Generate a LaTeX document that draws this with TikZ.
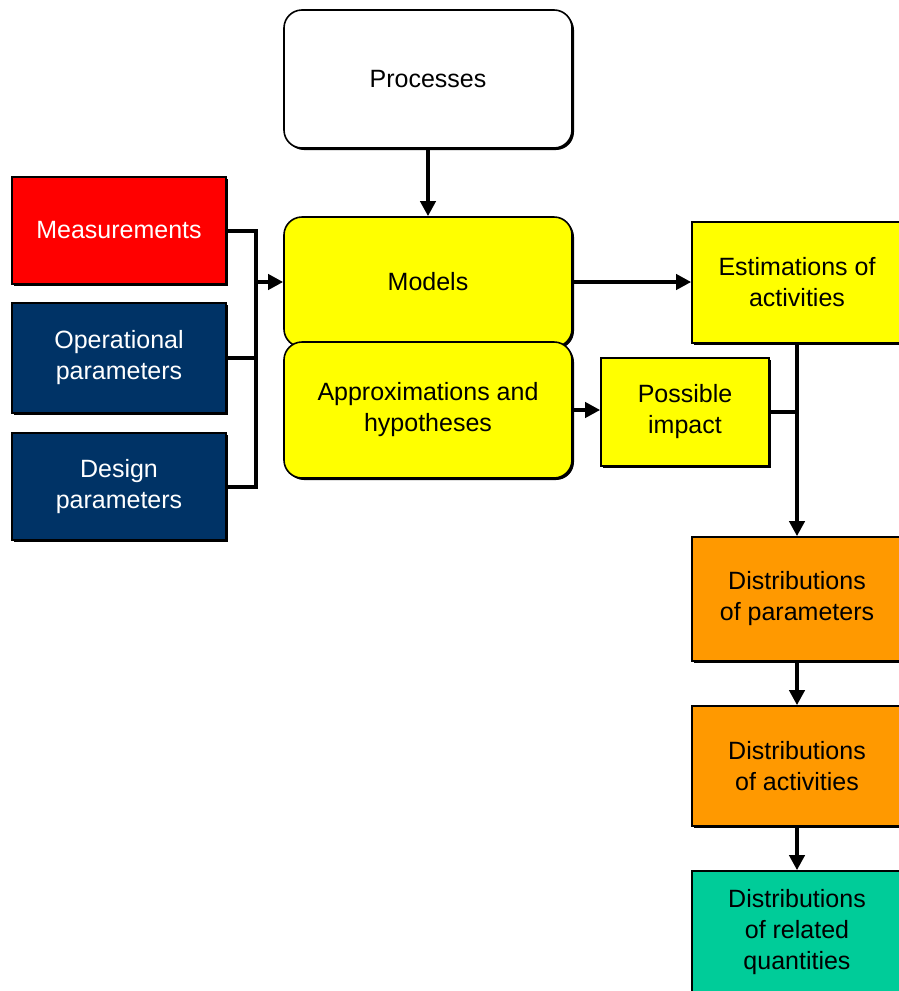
\documentclass[tikz,border=0pt]{standalone}
\usepackage{fontspec}
\setmainfont{Liberation Sans}
\usetikzlibrary{arrows.meta,shadows}
\definecolor{navy}{HTML}{003366}
\definecolor{boxyellow}{HTML}{FFFF00}
\definecolor{boxorange}{HTML}{FF9900}
\definecolor{boxteal}{HTML}{00CC99}
\definecolor{boxred}{HTML}{FF0000}
\tikzset{
  box/.style={draw=black, line width=1.6pt, align=center, inner sep=0pt,
    font=\fontsize{25}{31}\selectfont,
    drop shadow={shadow xshift=2pt, shadow yshift=-2pt, fill=black, opacity=1}},
  roundbox/.style={box, rounded corners=18pt},
  link/.style={line width=4pt},
  arrowlink/.style={link, -{Triangle[length=15pt,width=15pt]}},
}
\begin{document}
\begin{tikzpicture}[x=1pt,y=-1pt]
\useasboundingbox (0,0) rectangle (899,991);
\clip (0,0) rectangle (899,991);

% central column
\node[roundbox, fill=white, minimum width=288pt, minimum height=138pt] (proc) at (428,79) {Processes};
\node[roundbox, fill=boxyellow, minimum width=288pt, minimum height=130pt] (models) at (428,282) {Models};
\node[roundbox, fill=boxyellow, minimum width=288pt, minimum height=136pt] (approx) at (428,410) {Approximations and\\hypotheses};

% inputs on the left
\node[box, fill=boxred, text=white, minimum width=214pt, minimum height=107pt] (meas) at (119,230.5) {Measurements};
\node[box, fill=navy, text=white, minimum width=214pt, minimum height=110pt] (oper) at (119,358) {Operational\\parameters};
\node[box, fill=navy, text=white, minimum width=214pt, minimum height=107pt] (design) at (119,486.5) {Design\\parameters};

% outputs on the right
\node[box, fill=boxyellow, minimum width=210pt, minimum height=121pt] (est) at (797,282.5) {Estimations of\\activities};
\node[box, fill=boxyellow, minimum width=168pt, minimum height=108pt] (imp) at (685,412) {Possible\\impact};
\node[box, fill=boxorange, minimum width=210pt, minimum height=124pt] (dpar) at (797,599) {Distributions\\of parameters};
\node[box, fill=boxorange, minimum width=210pt, minimum height=120pt] (dact) at (797,766) {Distributions\\of activities};
\node[box, fill=boxteal, minimum width=210pt, minimum height=122pt] (drel) at (797,932) {Distributions\\of related\\quantities};

% collecting bus of the inputs
\coordinate (busB) at (256,486.5);
\draw[link] (meas.east) -| (busB) -- (design.east);
\draw[link] (oper.east) -- (oper.east -| busB);
\draw[arrowlink] (models.west -| busB) -- (models.west);

% main flow
\draw[arrowlink] (proc.south) -- (models.north);
\draw[arrowlink] (models.east) -- (models.east -| est.west);
\draw[arrowlink] (approx.east) -- (approx.east -| imp.west);
\draw[link] (imp.east) -- (imp.east -| est.south);
\draw[arrowlink] (est.south) -- (dpar.north);
\draw[arrowlink] (dpar.south) -- (dact.north);
\draw[arrowlink] (dact.south) -- (drel.north);
\end{tikzpicture}
\end{document}
